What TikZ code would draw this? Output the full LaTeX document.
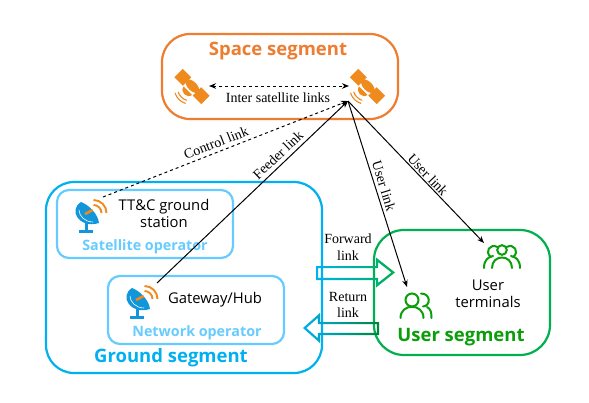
\documentclass[tikz,border=0pt]{standalone}
\usepackage{fontspec}
\setmainfont{Liberation Serif}
\newfontfamily\uifont{Open Sans}
\usetikzlibrary{arrows.meta}
\definecolor{spaceC}{HTML}{ED7D31}
\definecolor{groundC}{HTML}{00B0F0}
\definecolor{lightC}{HTML}{66CCFF}
\definecolor{userC}{HTML}{00B050}
\definecolor{userT}{HTML}{0A9E0A}
\definecolor{dishC}{HTML}{1296DB}
\definecolor{satC}{HTML}{EF8A1E}
\tikzset{
  x=1pt,y=-1pt,
  segbox/.style={draw,line width=2.2pt,fill=none,inner sep=0pt},
  link/.style={black,line width=1pt,-{Stealth[length=7pt,width=5.5pt]}},
  linklab/.style={font=\fontsize{14}{14}\selectfont,inner sep=0.5pt},
  uitext/.style={font=\uifont\fontsize{14.8}{16.7}\selectfont,align=center,inner sep=0pt},
  seglab/.style={font=\uifont\bfseries\fontsize{18.5}{20}\selectfont,inner sep=0pt},
  oplab/.style={font=\uifont\bfseries\fontsize{14.3}{16}\selectfont,text=lightC,inner sep=0pt},
  dishicon/.pic={
    \fill[dishC] (-6,-11) .. controls (-19,-3) and (-8,16) .. (12,10)
       .. controls (11,1) and (2,-8) .. cycle;
    \draw[white,line width=0.6pt] (-8,-3) .. controls (-8,3) and (-2,9) .. (6,9);
    \fill[dishC] (-2.5,9) rectangle (0.5,17);
    \fill[dishC] (-8,16.5) rectangle (6,19.5);
    \draw[satC,line width=2.6pt] (-2,1) -- (5.7,-3);
    \draw[satC,line width=1.9pt] ([shift={(6.5,0)}]0:8pt) arc[start angle=0,end angle=90,radius=8pt];
    \draw[satC,line width=1.9pt] ([shift={(6.5,0)}]0:13pt) arc[start angle=0,end angle=90,radius=13pt];
  },
  satellite/.pic={
    \begin{scope}[rotate=-45]
      \fill[satC] (-19,-6) rectangle (-7,6);
      \fill[satC] (7,-6) rectangle (19,6);
      \fill[satC] (0,-0.5) ellipse[x radius=8.5pt,y radius=4.5pt];
      \fill[satC] (-6,6) .. controls (-5,12.5) and (5,12.5) .. (6,6) -- cycle;
      \draw[satC,line width=1.1pt] (-6,13.5) .. controls (-3,15.5) and (3,15.5) .. (6,13.5);
      \draw[satC,line width=1.1pt] (-7.5,16.5) .. controls (-3,19) and (3,19) .. (7.5,16.5);
    \end{scope}
  }
}
\begin{document}
\begin{tikzpicture}
\path[use as bounding box,fill=white] (0,0) rectangle (589,402);

% boxes
\node[segbox,draw=spaceC,rounded corners=28pt,minimum width=236pt,minimum height=85pt] (space) at (280,76.5) {};
\node[segbox,draw=groundC,rounded corners=28pt,minimum width=276pt,minimum height=191pt] (ground) at (184,277.5) {};
\node[segbox,draw=lightC,rounded corners=12pt,minimum width=176pt,minimum height=68pt] (satop) at (145,224) {};
\node[segbox,draw=lightC,rounded corners=12pt,minimum width=176pt,minimum height=68pt] (netop) at (196,310) {};
\node[segbox,draw=userC,rounded corners=30pt,minimum width=176pt,minimum height=125pt] (user) at (462,292.5) {};

% segment labels
\node[seglab,text=spaceC] (spacelab) at (278,51) {Space segment};
\node[seglab,text=groundC] (groundlab) at (171,358) {Ground segment};
\node[seglab,text=userT] (userlab) at (461,337) {User segment};
\node[oplab] (satoplab) at (145,247) {Satellite operator};
\node[oplab] (netoplab) at (197,333) {Network operator};
\node[uitext] (ttc) at (164,213.5) {TT\&C ground\\station};
\node[uitext] (gw) at (215,300) {Gateway/Hub};
\node[uitext] (termlab) at (488,294) {User\\terminals};

% satellites
\pic at (367.5,86.5) {satellite};
\begin{scope}[shift={(192,86.5)},xscale=-1]
  \pic at (0,0) {satellite};
\end{scope}

% dishes
\pic at (87,213) {dishicon};
\pic at (138,299) {dishicon};

% user icons
\begin{scope}[userT,line width=2pt,line cap=round]
  \draw (412,300) circle[radius=6.5pt];
  \draw (400.5,318) .. controls (400.5,303) and (423.5,303) .. (423.5,318);
  \draw (421,293.5) .. controls (431,293.5) and (431,306) .. (423,306.5);
  \draw (427,307) .. controls (431,309) and (431.5,313) .. (431.5,318);
  % group
  \draw (502,250) circle[radius=4.8pt];
  \draw (497.5,247) .. controls (490,243) and (484,252) .. (491,257);
  \draw (506.5,247) .. controls (514,243) and (520,252) .. (513,257);
  \draw (492,268) .. controls (492,254) and (512,254) .. (512,268);
  \draw (484,268) .. controls (484,260) and (488,257) .. (493,256);
  \draw (520,268) .. controls (520,260) and (516,257) .. (511,256);
\end{scope}

% block arrows
\shade[even odd rule,left color=groundC,right color=userC]
  (316,266) -- (376,266) -- (376,257.5) -- (395,272.5) -- (376,287.5) -- (376,280) -- (316,280) -- cycle
  (318.2,268.2) -- (378.2,268.2) -- (378.2,262.2) -- (391.4,272.5) -- (378.2,282.8) -- (378.2,277.8) -- (318.2,277.8) -- cycle;
\shade[even odd rule,left color=groundC,right color=userC!75!black]
  (379,322) -- (320,322) -- (320,313) -- (303,328) -- (320,343) -- (320,335) -- (379,335) -- cycle
  (376.8,324.2) -- (317.8,324.2) -- (317.8,317.8) -- (306.4,328) -- (317.8,338.2) -- (317.8,332.8) -- (376.8,332.8) -- cycle;
\node[linklab,align=center,font=\fontsize{14}{17}\selectfont] (fwd) at (348,247.5) {Forward\\link};
\node[linklab,align=center,font=\fontsize{14}{16.5}\selectfont] (ret) at (348,305) {Return\\link};

% anchor points
\coordinate (isl) at (209,86);
\coordinate (isr) at (349,86);
\coordinate (hub) at (348,101);
\coordinate (ttcsrc) at (103,197);
\coordinate (gwsrc) at (157,283);
\coordinate (u1) at (407,287);
\coordinate (u2) at (484,243);

% connectors
\draw[link,{Stealth[length=7pt,width=5.5pt]}-{Stealth[length=7pt,width=5.5pt]},dashed] (isl) -- (isr);
\draw[link,dashed] (ttcsrc) -- (hub);
\draw[link] (gwsrc) -- (hub);
\draw[link] (hub) -- (u1);
\draw[link] (hub) -- (u2);

% labels
\node[linklab] (isllab) at (278,98) {Inter satellite links};
\node[linklab,rotate=21.6] (ctrl) at (216,143) {Control link};
\node[linklab,rotate=43.6] (feed) at (278,155) {Feeder link};
\node[linklab,rotate=-73] (ul1) at (384,186) {User link};
\node[linklab,rotate=-46.6] (ul2) at (428,175) {User link};
\end{tikzpicture}
\end{document}
